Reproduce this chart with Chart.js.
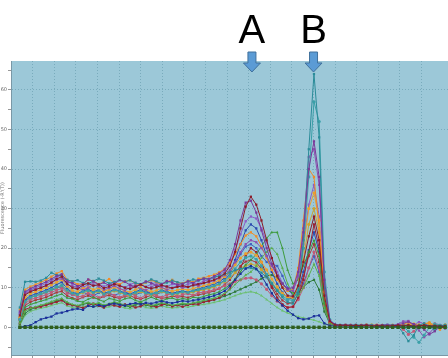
<!DOCTYPE html>
<html>
<head>
<meta charset="utf-8">
<script src="https://cdn.jsdelivr.net/npm/chart.js@4.4.1/dist/chart.umd.min.js"></script>
<style>
  html, body { margin: 0; padding: 0; background: #fff; overflow: hidden; }
  canvas { display: block; }
</style>
</head>
<body>
<canvas id="melt-chart" width="458" height="375"></canvas>
<script>
// temperature of each reading (°C)
const temps = [
  64.41, 64.65, 64.90, 65.14, 65.38, 65.63, 65.87, 66.11, 66.35, 66.60,
  66.84, 67.08, 67.33, 67.57, 67.81, 68.06, 68.30, 68.54, 68.78, 69.03,
  69.27, 69.51, 69.76, 70.00, 70.24, 70.49, 70.73, 70.97, 71.21, 71.46,
  71.70, 71.94, 72.19, 72.43, 72.67, 72.92, 73.16, 73.40, 73.64, 73.89,
  74.13, 74.37, 74.62, 74.86, 75.10, 75.35, 75.59, 75.83, 76.07, 76.32,
  76.56, 76.80, 77.05, 77.29, 77.53, 77.78, 78.02, 78.26, 78.50, 78.75,
  78.99, 79.23, 79.48, 79.72, 79.96, 80.21, 80.45, 80.69, 80.93, 81.18,
  81.42, 81.66, 81.91, 82.15, 82.39, 82.64, 82.88, 83.12, 83.36, 83.61,
  83.85, 84.09,
];

// melt peak markers
const peakNames = ["A", "B"];
const peakTemps = [75.15, 78.0];

// -R'(T) per well
const ntc = [
  0, 0, 0, 0, 0, 0, 0, 0, 0, 0,
  0, 0, 0, 0, 0, 0, 0, 0, 0, 0,
  0, 0, 0, 0, 0, 0, 0, 0, 0, 0,
  0, 0, 0, 0, 0, 0, 0, 0, 0, 0,
  0, 0, 0, 0, 0, 0, 0, 0, 0, 0,
  0, 0, 0, 0, 0, 0, 0, 0, 0, 0,
  0, 0, 0, 0, 0, 0, 0, 0, 0, 0,
  0, 0, 0, 0, 0, 0, 0, 0, 0, 0,
  0, 0,
];
const wellA1 = [
  3.0, 8.2, 9.0, 9.5, 10.0, 10.6, 11.3, 12.2, 12.8, 11.0,
  10.0, 9.7, 10.7, 11.1, 10.5, 10.8, 9.9, 10.3, 10.9, 10.5,
  10.0, 9.7, 10.3, 10.8, 10.2, 9.8, 10.1, 10.6, 10.3, 9.9,
  10.2, 10.5, 10.2, 10.6, 10.9, 11.2, 11.6, 12.0, 12.6, 13.6,
  15.5, 19.0, 25.0, 30.5, 33.0, 31.0, 27.0, 22.0, 17.5, 13.0,
  10.0, 8.0, 7.8, 10.5, 16.5, 23.0, 28.0, 22.0, 8.0, 1.5,
  0.6, 0.5, 0.5, 0.4, 0.5, 0.4, 0.5, 0.3, 0.4, 0.4,
  0.3, 0.4, 0.5, 0.3, 0.6, 0.2, 0.4, 0.5, 0.3, 0.4,
  0.2, 0.3,
];
const wellA2 = [
  4.0, 9.0, 9.8, 10.4, 10.9, 11.5, 12.2, 13.0, 13.4, 11.6,
  11.2, 10.4, 10.9, 12.1, 11.6, 10.8, 11.3, 10.6, 11.0, 11.9,
  11.5, 10.7, 10.2, 10.9, 11.6, 11.2, 10.5, 10.9, 11.7, 11.3,
  10.8, 11.0, 11.6, 11.2, 11.9, 12.3, 12.2, 12.9, 13.6, 14.6,
  17.0, 21.0, 27.0, 31.5, 32.0, 29.0, 24.5, 20.0, 16.0, 13.0,
  11.0, 9.8, 10.0, 14.0, 24.0, 40.0, 47.0, 38.0, 12.0, 1.8,
  0.7, 0.5, 0.6, 0.5, 0.4, 0.5, 0.6, 0.4, 0.5, 0.5,
  0.6, 0.4, 0.6, 1.0, 1.4, 0.8, 0.3, -0.6, -1.8, -1.0,
  0.2, -0.3,
];
const wellA3 = [
  0.0, 0.3, 0.5, 1.3, 2.0, 2.4, 2.7, 3.5, 3.7, 4.1,
  4.5, 4.7, 4.4, 5.4, 5.2, 5.6, 5.3, 5.8, 6.0, 5.7,
  5.5, 5.9, 6.1, 5.8, 6.2, 6.0, 6.3, 6.6, 6.3, 6.1,
  6.4, 6.7, 6.5, 6.8, 7.0, 7.3, 7.6, 8.0, 8.5, 9.2,
  10.5, 12.0, 13.5, 14.8, 15.5, 14.8, 13.0, 10.8, 8.6, 6.8,
  5.5, 4.2, 3.2, 2.3, 2.0, 2.2, 2.8, 3.0, 1.0, 0.4,
  0.3, 0.3, 0.4, 0.3, 0.2, 0.3, 0.4, 0.3, 0.3, 0.2,
  0.3, 0.3, 0.2, 0.4, 0.3, 0.2, 0.3, 0.4, 0.2, 0.3,
  0.3, 0.2,
];
const wellA4 = [
  5.0, 11.5, 11.6, 11.5, 11.8, 12.5, 13.8, 13.2, 13.0, 12.0,
  11.6, 11.9, 11.2, 11.0, 11.7, 12.3, 11.8, 11.1, 11.4, 12.0,
  11.5, 11.9, 11.2, 10.9, 11.4, 12.1, 11.6, 11.0, 11.3, 11.8,
  11.4, 11.0, 11.6, 12.1, 11.8, 12.3, 12.2, 12.7, 13.0, 13.4,
  13.9, 14.4, 14.8, 15.0, 15.0, 14.6, 13.8, 12.6, 11.0, 9.2,
  7.6, 6.4, 6.0, 8.5, 22.0, 45.0, 64.0, 48.0, 10.0, 1.8,
  0.7, 0.6, 0.6, 0.5, 0.6, 0.5, 0.6, 0.5, 0.4, 0.5,
  0.6, 0.5, 0.3, -1.5, -3.5, -2.0, 0.5, 1.0, 0.2, -0.8,
  0.4, 0.6,
];
const wellA5 = [
  2.0, 6.5, 7.5, 8.0, 8.5, 9.0, 9.6, 10.2, 10.6, 9.4,
  8.6, 8.3, 9.0, 9.3, 8.8, 9.2, 8.4, 8.9, 9.4, 9.0,
  8.5, 8.2, 8.8, 9.3, 8.7, 8.4, 8.7, 9.2, 8.8, 8.4,
  8.7, 9.0, 8.8, 9.2, 9.5, 9.8, 10.1, 10.5, 11.0, 11.8,
  13.0, 14.8, 16.5, 17.6, 18.0, 17.2, 15.5, 13.4, 11.2, 9.4,
  8.0, 7.0, 6.8, 9.5, 20.0, 38.0, 57.0, 52.0, 14.0, 2.0,
  0.7, 0.5, 0.5, 0.4, 0.5, 0.5, 0.4, 0.5, 0.4, 0.5,
  0.4, 0.5, 0.5, 0.2, -1.0, -2.5, -3.8, -2.0, 0.0, 0.8,
  0.5, 0.3,
];
const wellA6 = [
  3.5, 8.5, 9.2, 9.6, 10.0, 10.5, 11.2, 12.0, 12.3, 10.8,
  10.4, 10.1, 9.4, 10.0, 10.8, 10.3, 9.5, 9.9, 10.5, 9.8,
  9.3, 10.1, 10.6, 9.7, 9.4, 10.2, 10.8, 10.1, 9.5, 10.0,
  10.5, 10.0, 10.2, 10.8, 10.4, 11.2, 11.4, 11.8, 12.4, 13.2,
  14.5, 16.5, 19.0, 21.0, 22.0, 21.5, 20.0, 18.0, 15.5, 13.0,
  11.0, 9.5, 9.2, 13.0, 25.0, 43.0, 45.0, 36.0, 11.0, 1.6,
  0.6, 0.5, 0.4, 0.5, 0.6, 0.4, 0.5, 0.5, 0.4, 0.5,
  0.6, 0.5, 0.8, 1.5, 1.6, 0.4, -0.8, -2.5, -1.5, 0.0,
  0.5, 0.2,
];
const wellB1 = [
  4.5, 9.5, 10.3, 10.8, 11.4, 12.0, 12.8, 13.6, 14.2, 12.0,
  11.6, 10.9, 11.0, 12.0, 11.7, 10.9, 11.5, 12.2, 11.3, 10.9,
  11.6, 11.9, 11.1, 10.6, 11.3, 11.9, 11.4, 10.8, 11.5, 12.0,
  11.3, 11.1, 11.8, 11.4, 12.3, 12.5, 12.9, 13.3, 13.9, 14.8,
  16.2, 18.5, 21.0, 23.2, 24.0, 23.0, 20.5, 17.5, 14.5, 12.0,
  10.2, 9.2, 9.5, 15.0, 27.0, 40.0, 38.0, 25.0, 8.0, 1.4,
  0.6, 0.5, 0.6, 0.5, 0.4, 0.6, 0.5, 0.5, 0.6, 0.4,
  0.5, 0.6, 0.4, 0.8, 1.2, 0.6, 0.3, 0.9, 1.1, 0.2,
  -0.6, 0.3,
];
const wellB2 = [
  2.5, 7.5, 8.5, 9.0, 9.5, 10.0, 10.7, 11.4, 12.0, 10.4,
  9.3, 9.0, 9.8, 10.1, 9.5, 9.9, 9.1, 9.5, 10.1, 9.7,
  9.2, 8.9, 9.5, 10.0, 9.4, 9.0, 9.3, 9.9, 9.5, 9.1,
  9.4, 9.7, 9.4, 9.8, 10.1, 10.5, 10.9, 11.3, 11.9, 12.8,
  14.0, 15.8, 17.5, 18.6, 19.0, 18.2, 16.5, 14.5, 12.2, 10.2,
  8.6, 7.6, 7.4, 10.5, 20.0, 30.0, 34.0, 27.0, 9.0, 1.5,
  0.6, 0.4, 0.5, 0.5, 0.4, 0.5, 0.6, 0.4, 0.5, 0.5,
  0.4, 0.5, 0.6, 0.4, 0.5, 0.9, 0.6, -0.3, 0.5, 0.8,
  0.4, 0.5,
];
const wellB3 = [
  1.5, 5.0, 5.8, 6.2, 6.6, 7.0, 7.5, 8.0, 8.4, 7.4,
  7.2, 6.6, 6.4, 7.1, 7.6, 7.0, 6.5, 7.3, 7.0, 6.6,
  7.2, 7.5, 6.8, 6.4, 7.0, 7.6, 7.1, 6.6, 7.2, 7.4,
  6.9, 7.3, 7.0, 7.6, 7.4, 7.8, 8.2, 8.5, 9.0, 9.8,
  10.8, 12.2, 14.0, 15.8, 17.0, 18.5, 20.5, 22.5, 24.0, 24.0,
  20.0, 14.5, 11.0, 12.0, 15.5, 19.0, 22.0, 18.0, 6.0, 1.2,
  0.5, 0.4, 0.4, 0.5, 0.4, 0.4, 0.5, 0.4, 0.5, 0.4,
  0.4, 0.5, 0.4, 0.5, 0.6, 0.4, 0.5, 0.4, 0.5, 0.6,
  0.4, 0.5,
];
const wellB4 = [
  1.0, 4.0, 4.8, 5.2, 5.6, 6.0, 6.5, 7.0, 7.3, 6.4,
  5.8, 5.5, 6.0, 6.3, 5.9, 6.2, 5.6, 6.0, 6.4, 6.1,
  5.6, 5.4, 5.9, 6.3, 5.8, 5.5, 5.8, 6.2, 5.9, 5.6,
  5.8, 6.1, 5.9, 6.2, 6.5, 6.8, 7.1, 7.4, 7.9, 8.6,
  9.5, 10.8, 12.0, 13.2, 14.0, 15.5, 17.5, 19.0, 20.0, 18.5,
  15.0, 11.0, 8.5, 8.0, 10.0, 13.0, 16.0, 13.0, 5.0, 1.0,
  0.5, 0.4, 0.4, 0.5, 0.4, 0.4, 0.5, 0.4, 0.4, 0.5,
  0.4, 0.4, 0.5, 0.4, 0.4, 0.5, 0.4, 0.4, 0.5, 0.4,
  0.4, 0.4,
];
const wellB5 = [
  1.0, 4.5, 5.0, 5.0, 5.2, 5.6, 6.0, 6.4, 6.8, 5.8,
  5.6, 5.3, 4.9, 5.5, 6.0, 5.4, 5.0, 5.8, 5.5, 5.2,
  5.8, 5.6, 5.0, 5.3, 5.9, 5.5, 5.1, 5.6, 5.9, 5.3,
  5.6, 5.2, 5.7, 5.9, 5.8, 6.4, 6.6, 7.0, 7.5, 8.4,
  9.8, 12.0, 15.0, 18.0, 20.0, 19.0, 16.5, 13.0, 10.0, 7.5,
  5.8, 5.0, 5.2, 7.5, 12.0, 19.0, 26.0, 20.0, 7.0, 1.3,
  0.5, 0.4, 0.5, 0.4, 0.5, 0.4, 0.4, 0.5, 0.4, 0.5,
  0.4, 0.5, 0.4, 0.5, 0.4, 0.5, 0.6, 0.4, 0.5, 0.4,
  0.5, 0.4,
];
const wellB6 = [
  2.5, 7.0, 8.0, 8.4, 8.9, 9.4, 10.0, 10.8, 11.4, 9.8,
  8.8, 8.5, 9.2, 9.6, 9.0, 9.4, 8.6, 9.0, 9.6, 9.2,
  8.7, 8.4, 9.0, 9.5, 8.9, 8.5, 8.8, 9.4, 9.0, 8.6,
  8.9, 9.2, 8.9, 9.3, 9.7, 10.1, 10.5, 10.9, 11.5, 12.5,
  14.0, 17.0, 21.0, 24.5, 26.0, 25.0, 22.0, 18.0, 14.0, 11.0,
  8.8, 7.5, 7.2, 9.5, 14.0, 19.5, 24.0, 19.0, 7.0, 1.3,
  0.5, 0.4, 0.5, 0.4, 0.4, 0.5, 0.4, 0.5, 0.4, 0.4,
  0.5, 0.4, 0.4, 0.5, 0.4, 0.4, 0.5, 0.4, 0.4, 0.5,
  0.4, 0.4,
];
const wellC1 = [
  2.0, 6.0, 7.0, 7.4, 7.8, 8.2, 8.8, 9.4, 9.8, 8.6,
  8.3, 7.7, 7.9, 8.6, 8.2, 7.5, 8.0, 8.7, 8.1, 7.6,
  8.1, 8.6, 7.9, 7.4, 8.2, 8.7, 8.0, 7.6, 8.2, 8.5,
  7.8, 8.3, 8.5, 8.1, 8.7, 8.9, 9.1, 9.5, 9.9, 10.5,
  11.0, 11.6, 12.0, 12.4, 12.5, 12.0, 11.0, 9.6, 8.0, 6.6,
  5.6, 5.0, 5.2, 7.0, 10.0, 15.0, 19.0, 15.0, 5.5, 1.0,
  0.5, 0.4, 0.4, 0.5, 0.4, 0.4, 0.5, 0.4, 0.4, 0.5,
  0.4, 0.4, 0.4, -0.5, -1.8, -1.0, 0.2, 0.6, 0.3, -0.2,
  0.4, 0.5,
];
const wellC2 = [
  0.8, 3.5, 4.5, 5.0, 5.4, 5.8, 6.2, 6.6, 7.0, 6.1,
  5.6, 5.3, 5.8, 6.1, 5.7, 6.0, 5.4, 5.8, 6.2, 5.9,
  5.4, 5.2, 5.7, 6.1, 5.6, 5.3, 5.6, 6.0, 5.7, 5.4,
  5.6, 5.9, 5.7, 6.0, 6.3, 6.5, 6.8, 7.0, 7.4, 7.9,
  8.4, 9.0, 9.6, 10.2, 10.8, 11.5, 12.3, 13.0, 13.2, 12.5,
  11.0, 9.4, 8.6, 9.0, 10.2, 11.4, 12.0, 9.5, 4.0, 0.9,
  0.5, 0.4, 0.4, 0.5, 0.4, 0.4, 0.5, 0.4, 0.5, 0.4,
  0.4, 0.5, 0.4, 0.4, 0.5, 0.4, 0.5, 0.4, 0.4, 0.5,
  0.4, 0.4,
];
const wellC3 = [
  3.5, 8.8, 9.5, 10.0, 10.5, 11.1, 11.8, 12.6, 13.3, 11.5,
  11.0, 10.6, 10.1, 10.7, 11.4, 10.9, 10.3, 10.8, 11.5, 10.6,
  10.1, 10.8, 11.3, 10.7, 10.2, 10.9, 11.4, 10.5, 10.3, 10.9,
  10.7, 10.4, 10.9, 11.2, 11.0, 11.7, 12.0, 12.5, 13.1, 14.2,
  16.0, 19.5, 23.5, 26.8, 28.0, 27.5, 25.0, 21.5, 17.5, 14.0,
  11.2, 9.5, 9.2, 12.5, 21.0, 31.0, 36.0, 28.0, 9.0, 1.5,
  0.6, 0.5, 0.5, 0.6, 0.4, 0.5, 0.5, 0.4, 0.6, 0.5,
  0.5, 0.4, 0.6, 0.5, 0.4, 0.7, 1.3, 0.9, 0.4, 1.0,
  0.6, 0.3,
];
const wellC4 = [
  2.0, 6.5, 7.5, 8.0, 8.4, 8.9, 9.5, 10.1, 10.6, 9.3,
  8.5, 8.2, 8.8, 9.1, 8.6, 9.0, 8.3, 8.7, 9.2, 8.8,
  8.3, 8.0, 8.6, 9.0, 8.5, 8.2, 8.5, 9.0, 8.6, 8.2,
  8.5, 8.8, 8.6, 8.9, 9.2, 9.5, 9.8, 10.2, 10.8, 11.6,
  12.6, 13.8, 14.9, 15.6, 16.0, 15.6, 14.6, 13.0, 11.2, 9.6,
  8.4, 7.6, 7.3, 10.0, 17.0, 26.0, 30.0, 24.0, 8.0, 1.4,
  0.6, 0.5, 0.4, 0.5, 0.5, 0.4, 0.5, 0.6, 0.4, 0.5,
  0.5, 0.4, 0.5, 0.6, 0.4, 0.5, 0.4, 0.8, 1.2, 0.5,
  0.3, 0.6,
];
const wellC5 = [
  0.5, 3.0, 4.0, 4.5, 4.8, 5.1, 5.5, 5.9, 6.2, 5.4,
  5.0, 4.8, 5.2, 5.5, 5.1, 5.4, 4.9, 5.2, 5.6, 5.3,
  4.9, 4.7, 5.1, 5.5, 5.0, 4.8, 5.0, 5.4, 5.1, 4.9,
  5.0, 5.3, 5.1, 5.4, 5.6, 5.8, 6.0, 6.3, 6.6, 7.0,
  7.5, 8.0, 8.5, 8.8, 9.0, 8.7, 8.0, 7.0, 6.0, 5.0,
  4.2, 3.6, 3.1, 2.7, 2.4, 2.1, 1.8, 1.4, 0.9, 0.6,
  0.4, 0.4, 0.3, 0.4, 0.3, 0.4, 0.3, 0.4, 0.3, 0.3,
  0.4, 0.3, 0.4, 0.3, 0.3, 0.4, 0.3, 0.4, 0.3, 0.3,
  0.4, 0.3,
];
const wellC6 = [
  1.8, 5.5, 6.4, 6.9, 7.2, 7.6, 8.2, 8.8, 9.1, 8.0,
  7.4, 7.0, 7.6, 8.0, 7.5, 7.2, 7.8, 8.1, 7.6, 7.3,
  7.8, 8.0, 7.4, 7.1, 7.6, 8.1, 7.7, 7.3, 7.5, 7.9,
  7.6, 7.8, 7.5, 8.0, 8.2, 8.5, 8.8, 9.2, 9.8, 10.8,
  12.0, 13.8, 15.5, 16.6, 17.0, 16.4, 14.8, 12.8, 10.5, 8.4,
  6.8, 6.0, 6.2, 8.5, 13.0, 18.0, 21.0, 16.5, 6.0, 1.2,
  0.5, 0.4, 0.5, 0.4, 0.5, 0.4, 0.4, 0.5, 0.4, 0.4,
  0.5, 0.4, 0.5, 0.4, 0.4, 0.5, 0.4, 0.5, 0.4, 0.4,
  0.5, 0.4,
];
const wellD1 = [
  2.2, 6.8, 7.6, 8.0, 8.3, 8.8, 9.3, 9.9, 10.3, 9.0,
  8.2, 8.6, 8.9, 8.3, 8.0, 8.7, 9.1, 8.5, 8.1, 8.6,
  9.0, 8.4, 8.2, 8.8, 9.2, 8.6, 8.3, 8.9, 9.1, 8.5,
  8.7, 9.0, 8.8, 9.1, 9.4, 9.7, 10.0, 10.4, 11.0, 12.0,
  13.5, 16.0, 18.5, 20.4, 21.0, 20.0, 18.0, 16.5, 16.0, 15.5,
  13.0, 10.0, 8.0, 8.4, 11.0, 15.0, 18.0, 14.0, 5.0, 1.1,
  0.4, 0.5, 0.4, 0.4, 0.5, 0.4, 0.4, 0.5, 0.4, 0.4,
  0.5, 0.4, 0.4, 0.5, 0.4, 0.4, 0.5, 0.4, 0.4, 0.5,
  0.4, 0.4,
];

const wells = [ntc, wellA1, wellA2, wellA3, wellA4, wellA5, wellA6, wellB1, wellB2,
  wellB3, wellB4, wellB5, wellB6, wellC1, wellC2, wellC3, wellC4, wellC5, wellC6, wellD1];
const wellNames = ["NTC", "A1", "A2", "A3", "A4", "A5", "A6", "B1", "B2",
  "B3", "B4", "B5", "B6", "C1", "C2", "C3", "C4", "C5", "C6", "D1"];
const wellColors = ["#2e5e1e", "#8c1c2a", "#7a3a9a", "#1a2f9a", "#2b8c99", "#3aa0a8",
  "#8e4fb0", "#f08c28", "#e8a030", "#3d9b3d", "#5aae4a", "#9a2030", "#2a4ab0",
  "#c05a78", "#2f7a3a", "#8a5cc8", "#c9a530", "#6cc070", "#a83838", "#3f5fc0"];
const wellMarkers = ["rect", "rect", "rect", "rect", "rect", "circle", "rect", "rect",
  "circle", "triangle", "triangle", "rect", "rect", "circle", "rect", "rect", "circle",
  "triangle", "rect", "rect"];

const plotBg = {
  id: "plotBg",
  beforeDraw(chart) {
    const { ctx, chartArea: a } = chart;
    ctx.save();
    ctx.fillStyle = "#9cc8d8";
    ctx.fillRect(a.left, a.top, a.right - a.left, a.bottom - a.top);
    ctx.restore();
  },
};

// letters and arrows over the two melt peaks
const peakMarks = {
  id: "peakMarks",
  afterDraw(chart) {
    const { ctx } = chart;
    const xs = chart.scales.x;
    ctx.save();
    peakNames.forEach((name, k) => {
      const px = xs.getPixelForValue(peakTemps[k]);
      ctx.font = '40px "Liberation Sans", Arial, sans-serif';
      ctx.fillStyle = "#000";
      ctx.textAlign = "center";
      ctx.textBaseline = "alphabetic";
      ctx.fillText(name, px, 43);

      ctx.beginPath();
      ctx.moveTo(px - 4, 52);
      ctx.lineTo(px + 4, 52);
      ctx.lineTo(px + 4, 63);
      ctx.lineTo(px + 8.5, 63);
      ctx.lineTo(px, 72);
      ctx.lineTo(px - 8.5, 63);
      ctx.lineTo(px - 4, 63);
      ctx.closePath();
      ctx.fillStyle = "#5b9bd5";
      ctx.fill();
      ctx.lineWidth = 1;
      ctx.strokeStyle = "#41719c";
      ctx.stroke();
    });
    ctx.restore();
  },
};

const datasets = wells.map((vals, i) => ({
  label: wellNames[i],
  data: vals,
  borderColor: wellColors[i],
  backgroundColor: wellColors[i],
  borderWidth: 1,
  pointStyle: wellMarkers[i],
  pointRadius: i === 0 ? 2.4 : 1.6,
  pointBorderWidth: 0,
  tension: 0,
}));

const gridColor = "rgba(80, 135, 155, 0.45)";

const config = {
  type: "line",
  data: { labels: temps, datasets },
  options: {
    responsive: false,
    animation: false,
    devicePixelRatio: 1,
    layout: { padding: { top: 61, left: 0, right: 0, bottom: 0 } },
    plugins: {
      legend: { display: false },
      tooltip: { enabled: false },
    },
    scales: {
      x: {
        type: "linear",
        min: 64,
        max: 84.5,
        afterFit: (s) => { s.height = 20; },
        ticks: { stepSize: 1, display: false },
        grid: { color: gridColor, tickLength: 3, tickColor: "#999" },
        border: { color: "#7a98a6", dash: [1, 2] },
      },
      y: {
        min: -7,
        max: 67.3,
        afterFit: (s) => { s.width = 11; },
        afterBuildTicks: (s) => {
          s.ticks = s.ticks.filter((t) => t.value % 5 === 0);
        },
        ticks: {
          stepSize: 5,
          autoSkip: false,
          padding: 1,
          color: "#666",
          font: { size: 5, family: "DejaVu Sans" },
          callback: (v) => (v % 10 === 0 ? v : ""),
        },
        grid: {
          color: (c) => (c.tick && c.tick.value % 10 === 0 ? gridColor : "rgba(0,0,0,0)"),
          tickLength: 3,
          tickColor: "#999",
        },
        border: { color: "#7a98a6", dash: [1, 2] },
        title: {
          display: true,
          text: "Fluorescence (-R'(T))",
          color: "#777",
          padding: 0,
          font: { size: 5, family: "DejaVu Sans" },
        },
      },
    },
  },
  plugins: [plotBg, peakMarks],
};

const meltChart = new Chart(document.getElementById("melt-chart").getContext("2d"), config);
</script>
</body>
</html>
